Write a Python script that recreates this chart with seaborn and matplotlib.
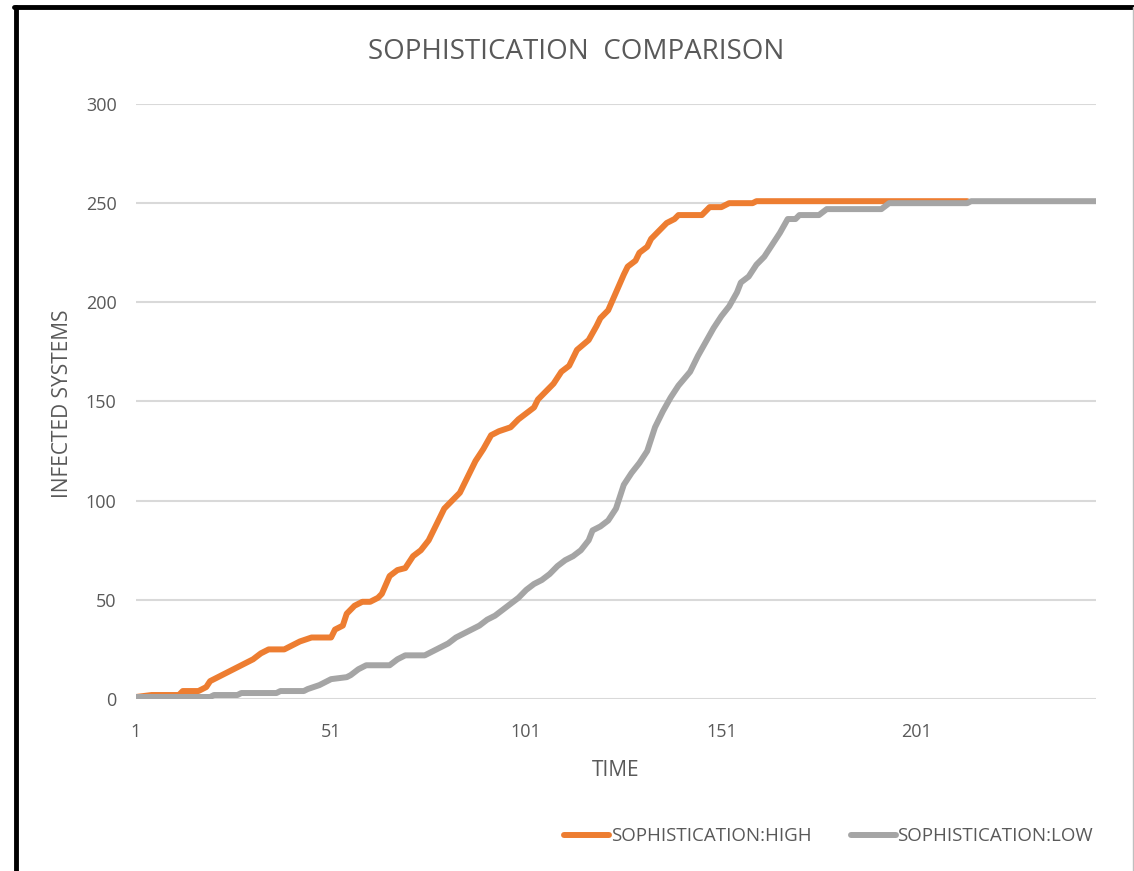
import pandas as pd
import seaborn as sns
import matplotlib.pyplot as plt
from matplotlib.lines import Line2D

# values
high_time = [1, 5, 12, 13, 17, 19, 20, 22, 24, 26, 28, 31, 33, 35, 39, 41, 43, 46, 51, 52,
             54, 55, 57, 59, 61, 63, 64, 66, 68, 70, 72, 74, 76, 78, 80, 82, 84, 86, 88, 90,
             92, 94, 97, 99, 103, 104, 106, 108, 110, 112, 114, 117, 119, 120, 122, 124, 126,
             127, 129, 130, 132, 133, 135, 137, 139, 140, 146, 148, 151, 153, 159, 160, 214]
high_vals = [1, 2, 2, 4, 4, 6, 9, 11, 13, 15, 17, 20, 23, 25, 25, 27, 29, 31, 31, 35,
             37, 43, 47, 49, 49, 51, 53, 62, 65, 66, 72, 75, 80, 88, 96, 100, 104, 112, 120, 126,
             133, 135, 137, 141, 147, 151, 155, 159, 165, 168, 176, 181, 188, 192, 196, 205, 214,
             218, 221, 225, 228, 232, 236, 240, 242, 244, 244, 248, 248, 250, 250, 251, 251]

low_time = [1, 20, 21, 27, 28, 37, 38, 44, 45, 48, 51, 55, 56, 58, 60, 66, 68, 70, 75, 77,
            79, 81, 83, 85, 87, 89, 91, 93, 95, 97, 99, 101, 103, 105, 107, 109, 111, 113, 115,
            117, 118, 120, 122, 124, 126, 128, 130, 132, 133, 134, 136, 138, 140, 143, 145, 147,
            149, 151, 153, 155, 156, 158, 160, 162, 164, 166, 168, 170, 171, 176, 178, 192, 194,
            214, 215, 247]
low_vals = [1, 1, 2, 2, 3, 3, 4, 4, 5, 7, 10, 11, 12, 15, 17, 17, 20, 22, 22, 24,
            26, 28, 31, 33, 35, 37, 40, 42, 45, 48, 51, 55, 58, 60, 63, 67, 70, 72, 75,
            80, 85, 87, 90, 96, 108, 114, 119, 125, 131, 137, 145, 152, 158, 165, 173, 180,
            187, 193, 198, 205, 210, 213, 219, 223, 229, 235, 242, 242, 244, 244, 247, 247, 250,
            250, 251, 251]

series_names = ["SOPHISTICATION:HIGH", "SOPHISTICATION:LOW"]
series_colors = ["#ED7D31", "#A5A5A5"]
x_ticks = [1, 51, 101, 151, 201]
y_ticks = [0, 50, 100, 150, 200, 250, 300]

df = pd.concat([
    pd.DataFrame({"time": high_time, "infected": high_vals, "series": series_names[0]}),
    pd.DataFrame({"time": low_time, "infected": low_vals, "series": series_names[1]}),
])

sns.set_style("white")
plt.rcParams["font.family"] = ["Open Sans", "DejaVu Sans"]
text_col = "#595959"

fig = plt.figure(figsize=(11.34, 8.71), dpi=100)
ax = fig.add_axes([0.1199, 0.1975, 0.8466, 0.6831])

sns.lineplot(data=df, x="time", y="infected", hue="series", palette=series_colors,
             estimator=None, linewidth=4.3, legend=False, ax=ax)

ax.set_xlim(1, 247)
ax.set_ylim(0, 300)
ax.set_xticks(x_ticks)
ax.set_yticks(y_ticks)
ax.yaxis.grid(True, color="#D9D9D9", linewidth=1.5)
ax.set_axisbelow(True)
for s in ax.spines.values():
    s.set_visible(False)
ax.tick_params(axis="x", length=0, pad=17, labelsize=13, labelcolor=text_col)
ax.tick_params(axis="y", length=0, pad=14, labelsize=13, labelcolor=text_col)
ax.set_xlabel("TIME", fontsize=15, color=text_col)
ax.set_ylabel("INFECTED SYSTEMS", fontsize=15, color=text_col, va="center")
ax.xaxis.set_label_coords(0.5, -0.1025)
ax.yaxis.set_label_coords(-0.077, 0.497)

fig.text(0.508, 0.94, "SOPHISTICATION  COMPARISON", ha="center", va="center",
         fontsize=20, color=text_col)

handles = [Line2D([], [], color=c, linewidth=4.3, solid_capstyle="round") for c in series_colors]
fig.legend(handles, series_names, loc="center right", bbox_to_anchor=(0.979, 0.04),
           ncol=2, frameon=False, fontsize=13.5, labelcolor=text_col,
           handlelength=2.4, handletextpad=0.1, columnspacing=2.1)

# screenshot frame
fig.add_artist(Line2D([0.014, 0.014], [0, 0.992], transform=fig.transFigure, color="black", linewidth=3.5))
fig.add_artist(Line2D([0.0125, 1.0], [0.992, 0.992], transform=fig.transFigure, color="black", linewidth=3.5))
fig.add_artist(Line2D([0.999, 0.999], [0, 0.992], transform=fig.transFigure, color="#BFBFBF", linewidth=1))

fig.savefig("out.png", dpi=100)
